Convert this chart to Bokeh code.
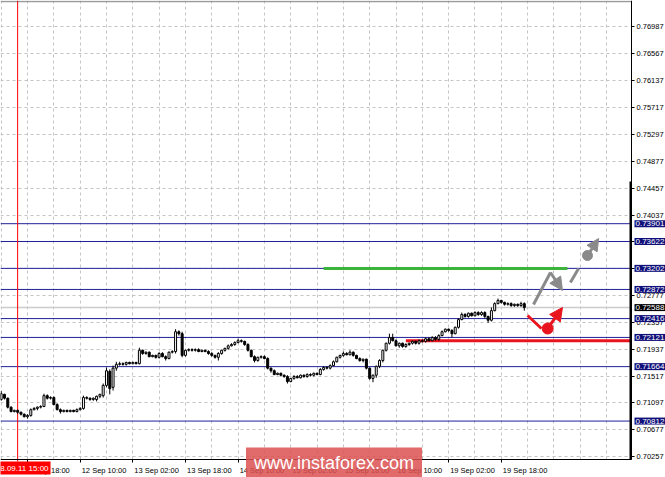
from bokeh.plotting import figure
from bokeh.models import (Range1d, FixedTicker, Label, Arrow, NormalHead,
                          CustomJSTickFormatter, PrintfTickFormatter, ColumnDataSource)
from bokeh.embed import file_html
from bokeh.resources import INLINE

# ---------------- data (hourly candles, bar index 0 = 9 Sep 10:00) ----------------
opens = [
0.7115, 0.7123, 0.7117, 0.7103, 0.7096, 0.7098, 0.7095, 0.7092, 0.7088, 0.7090,
0.7099, 0.7101, 0.7103, 0.7104, 0.7121, 0.7117, 0.7118, 0.7107, 0.7099, 0.7096,
0.7098, 0.7096, 0.7098, 0.7096, 0.7099, 0.7101, 0.7118, 0.7117, 0.7115, 0.7115,
0.7120, 0.7121, 0.7137, 0.7159, 0.7134, 0.7164, 0.7170, 0.7171, 0.7170, 0.7173,
0.7171, 0.7173, 0.7171, 0.7192, 0.7187, 0.7189, 0.7182, 0.7184, 0.7181, 0.7187,
0.7182, 0.7179, 0.7189, 0.7190, 0.7221, 0.7218, 0.7184, 0.7192, 0.7193, 0.7192,
0.7193, 0.7190, 0.7192, 0.7190, 0.7187, 0.7184, 0.7181, 0.7187, 0.7192, 0.7195,
0.7199, 0.7201, 0.7204, 0.7207, 0.7206, 0.7201, 0.7192, 0.7182, 0.7176, 0.7181,
0.7182, 0.7179, 0.7164, 0.7160, 0.7154, 0.7156, 0.7153, 0.7151, 0.7143, 0.7148,
0.7151, 0.7149, 0.7153, 0.7151, 0.7154, 0.7153, 0.7156, 0.7154, 0.7162, 0.7165,
0.7164, 0.7168, 0.7174, 0.7181, 0.7184, 0.7187, 0.7185, 0.7189, 0.7184, 0.7179,
0.7176, 0.7178, 0.7164, 0.7148, 0.7153, 0.7167, 0.7176, 0.7192, 0.7203, 0.7212,
0.7207, 0.7199, 0.7203, 0.7198, 0.7201, 0.7203, 0.7206, 0.7203, 0.7207, 0.7206,
0.7210, 0.7207, 0.7212, 0.7209, 0.7215, 0.7221, 0.7225, 0.7223, 0.7218, 0.7228,
0.7240, 0.7248, 0.7245, 0.7250, 0.7246, 0.7251, 0.7248, 0.7251, 0.7245, 0.7239,
0.7254, 0.7265, 0.7270, 0.7267, 0.7264, 0.7265, 0.7262, 0.7264, 0.7262, 0.7265,
]
highs = [
0.7128, 0.7124, 0.7118, 0.7104, 0.7099, 0.7099, 0.7096, 0.7093, 0.7092, 0.7101,
0.7103, 0.7104, 0.7106, 0.7124, 0.7123, 0.7120, 0.7120, 0.7109, 0.7101, 0.7099,
0.7099, 0.7099, 0.7099, 0.7101, 0.7103, 0.7121, 0.7120, 0.7118, 0.7118, 0.7121,
0.7124, 0.7140, 0.7165, 0.7162, 0.7168, 0.7174, 0.7174, 0.7173, 0.7174, 0.7174,
0.7174, 0.7174, 0.7196, 0.7193, 0.7190, 0.7190, 0.7185, 0.7185, 0.7189, 0.7189,
0.7184, 0.7190, 0.7192, 0.7225, 0.7223, 0.7221, 0.7193, 0.7195, 0.7195, 0.7195,
0.7195, 0.7193, 0.7193, 0.7192, 0.7189, 0.7185, 0.7189, 0.7193, 0.7196, 0.7201,
0.7203, 0.7206, 0.7210, 0.7209, 0.7207, 0.7203, 0.7193, 0.7184, 0.7182, 0.7184,
0.7184, 0.7181, 0.7165, 0.7162, 0.7157, 0.7157, 0.7154, 0.7153, 0.7149, 0.7153,
0.7153, 0.7154, 0.7154, 0.7156, 0.7156, 0.7157, 0.7157, 0.7164, 0.7167, 0.7167,
0.7170, 0.7176, 0.7182, 0.7185, 0.7190, 0.7189, 0.7192, 0.7190, 0.7185, 0.7181,
0.7179, 0.7179, 0.7165, 0.7154, 0.7168, 0.7178, 0.7193, 0.7204, 0.7218, 0.7218,
0.7209, 0.7204, 0.7204, 0.7203, 0.7204, 0.7207, 0.7207, 0.7209, 0.7209, 0.7212,
0.7212, 0.7214, 0.7214, 0.7217, 0.7223, 0.7226, 0.7226, 0.7225, 0.7229, 0.7242,
0.7251, 0.7250, 0.7251, 0.7251, 0.7253, 0.7253, 0.7253, 0.7253, 0.7246, 0.7259,
0.7267, 0.7273, 0.7271, 0.7268, 0.7267, 0.7267, 0.7265, 0.7265, 0.7268, 0.7267,
]
lows = [
0.7113, 0.7115, 0.7101, 0.7095, 0.7095, 0.7093, 0.7090, 0.7087, 0.7085, 0.7088,
0.7098, 0.7098, 0.7101, 0.7103, 0.7115, 0.7115, 0.7106, 0.7098, 0.7093, 0.7095,
0.7095, 0.7095, 0.7095, 0.7095, 0.7098, 0.7099, 0.7115, 0.7113, 0.7113, 0.7112,
0.7117, 0.7118, 0.7134, 0.7123, 0.7129, 0.7160, 0.7168, 0.7168, 0.7168, 0.7170,
0.7170, 0.7170, 0.7170, 0.7185, 0.7185, 0.7181, 0.7181, 0.7179, 0.7179, 0.7181,
0.7176, 0.7178, 0.7187, 0.7187, 0.7215, 0.7181, 0.7182, 0.7190, 0.7190, 0.7190,
0.7189, 0.7189, 0.7189, 0.7185, 0.7182, 0.7179, 0.7176, 0.7185, 0.7190, 0.7193,
0.7198, 0.7199, 0.7203, 0.7204, 0.7199, 0.7190, 0.7181, 0.7173, 0.7174, 0.7179,
0.7178, 0.7162, 0.7157, 0.7153, 0.7153, 0.7151, 0.7149, 0.7140, 0.7142, 0.7146,
0.7148, 0.7148, 0.7149, 0.7149, 0.7151, 0.7151, 0.7153, 0.7153, 0.7160, 0.7162,
0.7162, 0.7167, 0.7173, 0.7179, 0.7182, 0.7184, 0.7184, 0.7182, 0.7178, 0.7174,
0.7173, 0.7162, 0.7146, 0.7142, 0.7149, 0.7164, 0.7173, 0.7190, 0.7201, 0.7206,
0.7198, 0.7196, 0.7196, 0.7196, 0.7199, 0.7201, 0.7201, 0.7201, 0.7204, 0.7204,
0.7206, 0.7206, 0.7207, 0.7207, 0.7214, 0.7220, 0.7221, 0.7212, 0.7217, 0.7226,
0.7239, 0.7243, 0.7243, 0.7245, 0.7245, 0.7246, 0.7246, 0.7242, 0.7235, 0.7237,
0.7253, 0.7264, 0.7265, 0.7262, 0.7262, 0.7260, 0.7260, 0.7260, 0.7260, 0.7254,
]
closes = [
0.7124, 0.7117, 0.7103, 0.7096, 0.7098, 0.7095, 0.7092, 0.7088, 0.7090, 0.7099,
0.7101, 0.7103, 0.7104, 0.7121, 0.7117, 0.7118, 0.7107, 0.7099, 0.7096, 0.7098,
0.7096, 0.7098, 0.7096, 0.7099, 0.7101, 0.7118, 0.7117, 0.7115, 0.7117, 0.7120,
0.7123, 0.7137, 0.7160, 0.7132, 0.7164, 0.7170, 0.7171, 0.7170, 0.7173, 0.7171,
0.7173, 0.7171, 0.7192, 0.7187, 0.7189, 0.7182, 0.7184, 0.7181, 0.7187, 0.7182,
0.7179, 0.7189, 0.7190, 0.7221, 0.7218, 0.7184, 0.7192, 0.7193, 0.7192, 0.7193,
0.7190, 0.7192, 0.7190, 0.7187, 0.7184, 0.7181, 0.7187, 0.7192, 0.7195, 0.7199,
0.7201, 0.7204, 0.7207, 0.7206, 0.7201, 0.7192, 0.7182, 0.7176, 0.7181, 0.7182,
0.7179, 0.7164, 0.7160, 0.7154, 0.7156, 0.7153, 0.7151, 0.7143, 0.7148, 0.7151,
0.7149, 0.7153, 0.7151, 0.7154, 0.7153, 0.7156, 0.7154, 0.7162, 0.7165, 0.7164,
0.7168, 0.7174, 0.7181, 0.7184, 0.7187, 0.7185, 0.7189, 0.7184, 0.7179, 0.7176,
0.7178, 0.7164, 0.7148, 0.7153, 0.7167, 0.7176, 0.7192, 0.7203, 0.7212, 0.7207,
0.7199, 0.7203, 0.7198, 0.7201, 0.7203, 0.7206, 0.7203, 0.7207, 0.7206, 0.7210,
0.7207, 0.7212, 0.7209, 0.7215, 0.7221, 0.7225, 0.7223, 0.7218, 0.7228, 0.7240,
0.7248, 0.7245, 0.7250, 0.7246, 0.7251, 0.7248, 0.7251, 0.7245, 0.7239, 0.7254,
0.7265, 0.7270, 0.7267, 0.7264, 0.7265, 0.7262, 0.7264, 0.7262, 0.7265, 0.72588,
]
bars = list(range(len(opens)))

price_ticks = [0.76987, 0.76567, 0.76137, 0.75717, 0.75297, 0.74877, 0.74457, 0.74037,
               0.73617, 0.73197, 0.72777, 0.72357, 0.71937, 0.71517, 0.71097, 0.70677, 0.70257]
level_prices = [0.73901, 0.73622, 0.73202, 0.72872, 0.72416, 0.72121, 0.71664, 0.70812]
bid_price = 0.72588

time_tick_bars = [8, 24, 40, 56, 72, 88, 104, 120, 136, 152]
time_tick_labels = ["9 Sep 18:00", "12 Sep 10:00", "13 Sep 02:00", "13 Sep 18:00",
                    "14 Sep 10:00", "15 Sep 02:00", "15 Sep 18:00", "16 Sep 10:00",
                    "19 Sep 02:00", "19 Sep 18:00"]
grid_bars = list(range(0, 192, 8))
cursor_bar = 5
cursor_label = "08.09.11 15:00"

green_level = 0.73200
green_span = [98.0, 172.1]
red_level = 0.72068
red_start = 123.0

grey_path_x = [161.8, 166.95]
grey_path_y = [0.72636, 0.73137]
grey_head = [166.95, 0.73137, 170.6, 0.72856]
grey_dash_x = [173.0, 175.5]
grey_dash_y = [0.72981, 0.73200]
grey_dot = [178.2, 0.73403]
grey_arrow = [178.2, 0.73403, 181.6, 0.73669]
red_path_x = [160.0, 164.2]
red_path_y = [0.72464, 0.72261]
red_dot = [166.1, 0.72261]
red_arrow = [166.1, 0.72261, 170.6, 0.72589]

shift_bar_top = 0.74561
watermark_text = "www.instaforex.com"

# ---------------- layout constants ----------------
W, H = 665, 477
BAR_PX = 3.29                 # pixels per hourly bar
PX_PER_PRICE = 1.0 / 0.0001565
XL, XR = -0.7 / BAR_PX, (W - 0.7) / BAR_PX          # canvas x range in bars
YT = 0.77394
YB = YT - H / PX_PER_PRICE                            # canvas y range in price
X_AXIS = (631 - 0.7) / BAR_PX                         # price scale position
Y_AXIS = YT - 459 / PX_PER_PRICE                      # time scale position
def py(pix):
    return YT - pix / PX_PER_PRICE

FONT = "Liberation Sans"
FS = "7.5px"
NAVY_LINE = "#20209a"
NAVY_BOX = "#10107a"
GREY = "#8a8a8a"
RED = "#e8141e"

p = figure(width=W, height=H, x_range=Range1d(XL, XR), y_range=Range1d(YB, YT),
           y_axis_location="right", toolbar_location=None, output_backend="svg",
           min_border=0, min_border_left=0, min_border_top=0, min_border_right=0,
           min_border_bottom=0, background_fill_color="white", border_fill_color="white",
           outline_line_color=None)

# price scale (drawn inside the canvas at a fixed location)
yax = p.yaxis[0]
yax.fixed_location = X_AXIS
yax.bounds = (Y_AXIS, YT)
yax.ticker = FixedTicker(ticks=price_ticks)
yax.formatter = PrintfTickFormatter(format="%.5f")
yax.axis_line_color = "black"
yax.major_tick_out = 3
yax.major_tick_in = 0
yax.minor_tick_line_color = None
yax.major_label_standoff = 2
yax.major_label_text_font = FONT
yax.major_label_text_font_size = FS
yax.major_label_text_color = "black"

# time scale: labels are left-aligned at their tick -> anchor shifted by half the label width
centers = [b + (1.5 + 0.497 * 7.5 * len(t) / 2.0) / BAR_PX for b, t in zip(time_tick_bars, time_tick_labels)]
xax = p.xaxis[0]
xax.fixed_location = Y_AXIS
xax.bounds = (XL, X_AXIS)
xax.ticker = FixedTicker(ticks=centers, minor_ticks=time_tick_bars)
xax.formatter = CustomJSTickFormatter(args=dict(c=centers, labels=time_tick_labels), code="""
for (let i = 0; i < c.length; i++) { if (Math.abs(c[i] - tick) < 0.01) return labels[i]; }
return '';
""")
xax.axis_line_color = "black"
xax.major_tick_out = 0
xax.major_tick_in = 0
xax.minor_tick_out = 3
xax.minor_tick_in = 0
xax.minor_tick_line_color = "black"
xax.major_label_standoff = 3
xax.major_label_text_font = FONT
xax.major_label_text_font_size = FS
xax.major_label_text_color = "black"

# grids
p.xgrid.ticker = FixedTicker(ticks=grid_bars)
for g in (p.xgrid[0], p.ygrid[0]):
    g.grid_line_color = "#c4c4c4"
    g.grid_line_dash = "3 3"
    g.grid_line_width = 1

# blank the scale areas (grid lines only inside the chart window)
p.quad(left=[X_AXIS, XL], right=[XR, XR], bottom=[YB, YB], top=[YT, Y_AXIS],
       fill_color="white", line_color=None)

# top border of the chart window
p.segment(x0=[XL], x1=[X_AXIS], y0=[py(1)], y1=[py(1)], line_color="#9a9a9a", line_width=1.5)

# current price line and levels
p.segment(x0=[XL], x1=[X_AXIS], y0=[bid_price], y1=[bid_price], line_color="#cccccc", line_width=1.5)
p.segment(x0=[XL] * len(level_prices), x1=[X_AXIS] * len(level_prices),
          y0=level_prices, y1=level_prices, line_color=NAVY_LINE, line_width=1)

# cursor vertical line
p.segment(x0=[cursor_bar], x1=[cursor_bar], y0=[py(461)], y1=[YT], line_color="red", line_width=1)

# analyst lines
p.line(green_span, [green_level, green_level], line_color="#3cb43c", line_width=3)
p.line([red_start, X_AXIS], [red_level, red_level], line_color=RED, line_width=3)

# candles
bull = [c >= o for o, c in zip(opens, closes)]
src = ColumnDataSource(dict(
    x=bars, high=highs, low=lows,
    top=[max(o, c) for o, c in zip(opens, closes)],
    bottom=[min(o, c) for o, c in zip(opens, closes)],
    fill=["white" if b else "black" for b in bull]))
p.segment(x0="x", y0="low", x1="x", y1="high", source=src, line_color="black", line_width=1)
p.vbar(x="x", width=0.6, top="top", bottom="bottom", source=src,
       fill_color="fill", line_color="black", line_width=1)

# chart-shift marker at the right edge
p.quad(left=[X_AXIS - 2.0 / BAR_PX], right=[X_AXIS], top=[shift_bar_top], bottom=[Y_AXIS],
       fill_color="black", line_color=None)

# forecast marks
p.line(grey_path_x, grey_path_y, line_color=GREY, line_width=3)
p.add_layout(Arrow(end=NormalHead(size=13, fill_color=GREY, line_color=GREY),
                   x_start=grey_head[0], y_start=grey_head[1], x_end=grey_head[2], y_end=grey_head[3],
                   line_color=GREY, line_width=3))
p.line(grey_dash_x, grey_dash_y, line_color=GREY, line_width=3)
p.scatter([grey_dot[0]], [grey_dot[1]], size=10, marker="circle", fill_color=GREY, line_color=GREY)
p.add_layout(Arrow(end=NormalHead(size=12, fill_color=GREY, line_color=GREY),
                   x_start=grey_arrow[0], y_start=grey_arrow[1], x_end=grey_arrow[2], y_end=grey_arrow[3],
                   line_color=GREY, line_width=3))
p.line(red_path_x, red_path_y, line_color=RED, line_width=3)
p.scatter([red_dot[0]], [red_dot[1]], size=11, marker="circle", fill_color=RED, line_color=RED)
p.add_layout(Arrow(end=NormalHead(size=13, fill_color=RED, line_color=RED),
                   x_start=red_arrow[0], y_start=red_arrow[1], x_end=red_arrow[2], y_end=red_arrow[3],
                   line_color=RED, line_width=3))

# price boxes on the price scale
for lv in level_prices:
    p.add_layout(Label(x=X_AXIS, y=lv, x_offset=3, text="%.5f" % lv, text_align="left",
                       text_baseline="middle", text_font=FONT, text_font_size="8px",
                       text_color="white", background_fill_color=NAVY_BOX, padding=1))
p.add_layout(Label(x=X_AXIS, y=bid_price, x_offset=3, text="%.5f" % bid_price, text_align="left",
                   text_baseline="middle", text_font=FONT, text_font_size="8px",
                   text_color="white", background_fill_color="black", padding=1))

# cursor time box (partly cut by the left edge, as in the terminal)
p.add_layout(Label(x=cursor_bar, y=py(467.5), x_offset=4.5, text=cursor_label, text_align="center",
                   text_baseline="middle", text_font=FONT, text_font_size="8px",
                   text_color="white", background_fill_color="#ff0000", padding=(2, 2)))

# watermark
p.add_layout(Label(x=(333.5 - 0.7) / BAR_PX, y=py(462), text=watermark_text,
                   text_align="center", text_baseline="middle", text_font=FONT,
                   text_font_size="18px", text_color="white",
                   background_fill_color="#dc5050", background_fill_alpha=0.85, padding=(8, 5)))

open("out.html", "w").write(file_html(p, INLINE))
